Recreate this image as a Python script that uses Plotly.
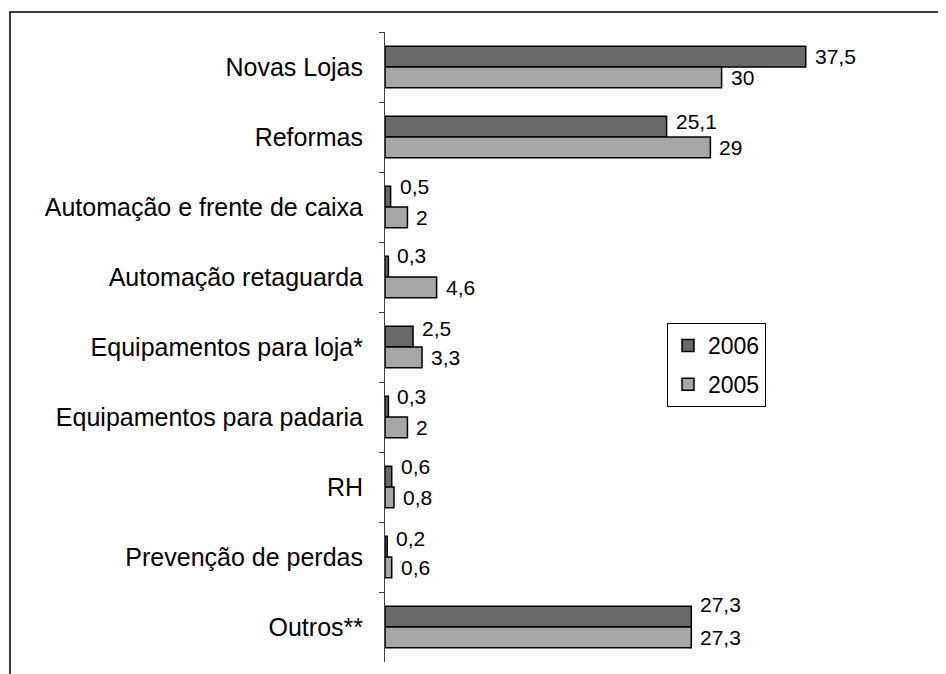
import plotly.graph_objects as go

categories = [
    "Novas Lojas",
    "Reformas",
    "Automação e frente de caixa",
    "Automação retaguarda",
    "Equipamentos para loja*",
    "Equipamentos para padaria",
    "RH",
    "Prevenção de perdas",
    "Outros**",
]
values_2006 = [37.5, 25.1, 0.5, 0.3, 2.5, 0.3, 0.6, 0.2, 27.3]
values_2005 = [30, 29, 2, 4.6, 3.3, 2, 0.8, 0.6, 27.3]
labels_2006 = ["37,5", "25,1", "0,5", "0,3", "2,5", "0,3", "0,6", "0,2", "27,3"]
labels_2005 = ["30", "29", "2", "4,6", "3,3", "2", "0,8", "0,6", "27,3"]

# style: vertical lift (px) of the 2006 value labels, as in the original
lift_2006 = [0, 5, 10, 11, 8, 10, 10, 8, 12]

# page body has an 8px margin, so the figure is offset by 8px
OFF = 8
W, H = 946 - OFF, 674 - OFF
L, R, T, B = 385 - OFF, 0, 32 - OFF, 12
pw, ph = W - L - R, H - T - B

FONT = "Liberation Sans, Arial, sans-serif"
DARK = "#696969"
LIGHT = "#a6a6a6"

fig = go.Figure()
fig.add_trace(go.Bar(
    y=categories, x=values_2006, orientation="h", name="2006",
    marker=dict(color=DARK, line=dict(color="black", width=1.5)),
    legendgroup="a",
))
fig.add_trace(go.Bar(
    y=categories, x=values_2005, orientation="h", name="2005",
    marker=dict(color=LIGHT, line=dict(color="black", width=1.5)),
    legendgroup="b",
))

annotations = []
bar_off = 0.59 / 4  # half of one bar's share within the category band
for i, cat in enumerate(categories):
    annotations.append(dict(
        x=values_2006[i], y=i - bar_off, xref="x", yref="y",
        text=labels_2006[i], showarrow=False, xanchor="left", yanchor="middle",
        xshift=7, yshift=lift_2006[i],
        font=dict(family=FONT, size=21, color="black"),
    ))
    annotations.append(dict(
        x=values_2005[i], y=i + bar_off, xref="x", yref="y",
        text=labels_2005[i], showarrow=False, xanchor="left", yanchor="middle",
        xshift=7,
        font=dict(family=FONT, size=21, color="black"),
    ))

frame = dict(
    type="rect", xref="paper", yref="paper",
    x0=(10 - OFF - L) / pw, x1=1.2, y0=-0.2, y1=1 + (T - (12 - OFF)) / ph,
    line=dict(color="black", width=1.5), fillcolor="rgba(0,0,0,0)", layer="below",
)

fig.update_layout(
    width=W, height=H,
    margin=dict(l=L, r=R, t=T, b=B, pad=0),
    paper_bgcolor="white", plot_bgcolor="white",
    barmode="group", bargap=0.41, bargroupgap=0,
    font=dict(family=FONT, color="black"),
    showlegend=True,
    legend=dict(
        x=(667 - OFF - L) / pw, y=1 - (323 - OFF - T) / ph,
        xanchor="left", yanchor="top",
        bordercolor="black", borderwidth=1, bgcolor="white",
        font=dict(family=FONT, size=23, color="black"),
        tracegroupgap=6, traceorder="grouped",
    ),
    xaxis=dict(range=[0, 50], visible=False, fixedrange=True),
    yaxis=dict(
        type="category", categoryorder="array", categoryarray=categories,
        autorange="reversed",
        showline=True, linecolor="#404040", linewidth=1,
        ticks="outside", tickson="boundaries", ticklen=5, tickcolor="#404040",
        tickfont=dict(family=FONT, size=25, color="black"),
        ticklabelstandoff=16,
        showgrid=False, zeroline=False,
    ),
    annotations=annotations,
    shapes=[frame],
)

fig.write_html("out.html")
